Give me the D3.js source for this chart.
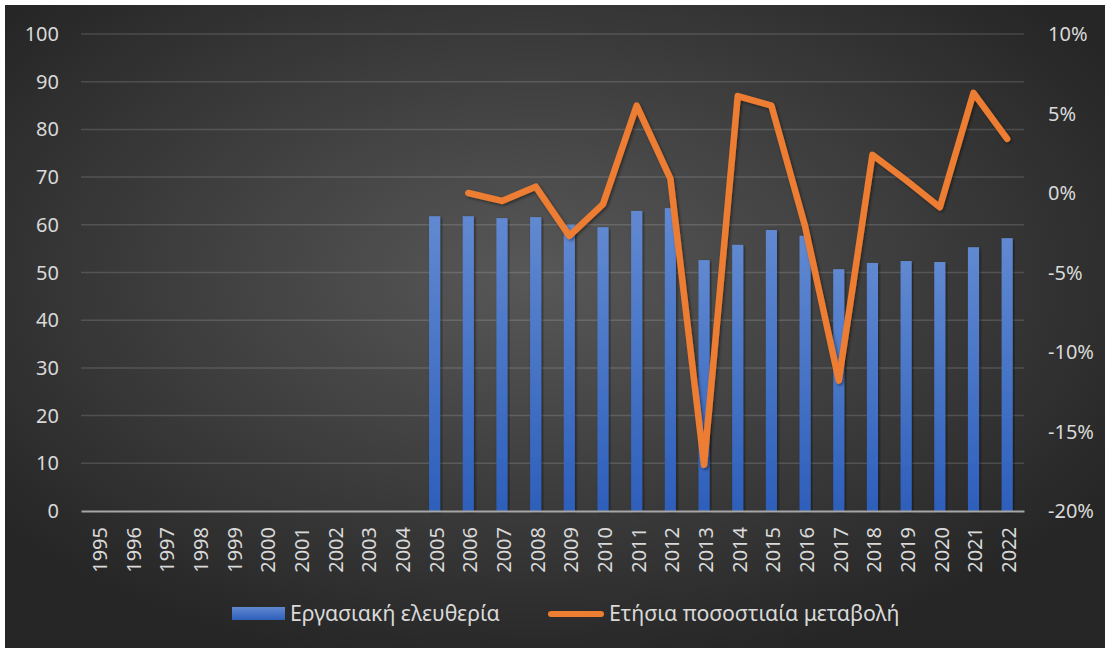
<!DOCTYPE html>
<html>
<head>
<meta charset="utf-8">
<script src="https://cdn.jsdelivr.net/npm/d3@7"></script>
<style>
    body { margin: 0; background: #ffffff; }
    svg { display: block; }
    .tick-label { font-family: "Noto Sans", "Open Sans", sans-serif; fill: #d9d9d9; }
</style>
</head>
<body>
<div id="chart"></div>
<script>
// values
const years = ['1995', '1996', '1997', '1998', '1999', '2000', '2001', '2002', '2003', '2004',
    '2005', '2006', '2007', '2008', '2009', '2010', '2011', '2012', '2013', '2014',
    '2015', '2016', '2017', '2018', '2019', '2020', '2021', '2022'];

const laborFreedom = [null, null, null, null, null, null, null, null, null, null,
    61.8, 61.8, 61.4, 61.6, 60.0, 59.5, 62.9, 63.5, 52.6, 55.8,
    58.9, 57.7, 50.7, 52.0, 52.4, 52.2, 55.3, 57.2];

// yearly change in percent
const yearlyChange = [null, null, null, null, null, null, null, null, null, null,
    null, 0.0, -0.5, 0.4, -2.7, -0.7, 5.5, 0.9, -17.1, 6.1,
    5.5, -2.1, -11.8, 2.4, 0.8, -0.9, 6.3, 3.4];

const leftTicks = [0, 10, 20, 30, 40, 50, 60, 70, 80, 90, 100];
const rightTicks = [-20, -15, -10, -5, 0, 5, 10];
const seriesNames = ['Εργασιακή ελευθερία', 'Ετήσια ποσοστιαία μεταβολή'];

class ComboChart {

    constructor(_config) {
        this.config = {
            parentElement: _config.parentElement,
            containerWidth: 1105,
            containerHeight: 648,
            plot: {left: 81, right: 1024, top: 34, bottom: 511}
        }
        this.initVis();
    }

    initVis() {
        let vis = this;
        const p = vis.config.plot;

        vis.svg = d3.select(vis.config.parentElement).append('svg')
            .attr('width', vis.config.containerWidth)
            .attr('height', vis.config.containerHeight);

        const defs = vis.svg.append('defs');

        const bg = defs.append('radialGradient')
            .attr('id', 'bg-grad')
            .attr('cx', '48%').attr('cy', '42%').attr('r', '62%');
        bg.append('stop').attr('offset', '0%').attr('stop-color', '#585858');
        bg.append('stop').attr('offset', '100%').attr('stop-color', '#262626');

        const barGrad = defs.append('linearGradient')
            .attr('id', 'bar-grad')
            .attr('x1', 0).attr('y1', 0).attr('x2', 0).attr('y2', 1);
        barGrad.append('stop').attr('offset', '0%').attr('stop-color', '#6189d1');
        barGrad.append('stop').attr('offset', '100%').attr('stop-color', '#2d5fbb');

        const shadow = defs.append('filter')
            .attr('id', 'shadow')
            .attr('x', '-20%').attr('y', '-20%').attr('width', '140%').attr('height', '140%');
        shadow.append('feDropShadow')
            .attr('dx', 1.5).attr('dy', 1.5).attr('stdDeviation', 1.5)
            .attr('flood-color', '#000').attr('flood-opacity', 0.45);

        vis.svg.append('rect')
            .attr('x', 5).attr('y', 5)
            .attr('width', vis.config.containerWidth - 5)
            .attr('height', vis.config.containerHeight - 5)
            .attr('fill', 'url(#bg-grad)');

        // scales
        vis.xScale = d3.scaleBand().domain(years).range([p.left, p.right]).padding(0);
        vis.yLeft = d3.scaleLinear().domain([0, 100]).range([p.bottom, p.top]);
        vis.yRight = d3.scaleLinear().domain([-20, 10]).range([p.bottom, p.top]);

        vis.gridG = vis.svg.append('g').attr('class', 'grid');
        vis.barG = vis.svg.append('g').attr('class', 'bars');
        vis.axisG = vis.svg.append('g').attr('class', 'x-axis');
        vis.lineG = vis.svg.append('g').attr('class', 'line');
        vis.labelG = vis.svg.append('g').attr('class', 'labels');
        vis.legendG = vis.svg.append('g').attr('class', 'legend');
    }

    renderVis() {
        let vis = this;
        const p = vis.config.plot;

        // gridlines
        vis.gridG.selectAll('line')
            .data(leftTicks.filter(d => d > 0))
            .join('line')
            .attr('x1', p.left).attr('x2', p.right)
            .attr('y1', d => vis.yLeft(d)).attr('y2', d => vis.yLeft(d))
            .attr('stroke', '#ffffff').attr('stroke-opacity', 0.14)
            .attr('stroke-width', 1.5);

        // bars
        const barW = vis.xScale.bandwidth() * 0.33;
        const barData = years.map((y, i) => ({year: y, value: laborFreedom[i]}))
            .filter(d => d.value !== null);

        vis.barG.selectAll('rect')
            .data(barData)
            .join('rect')
            .attr('x', d => vis.xScale(d.year) + vis.xScale.bandwidth() / 2 - barW / 2)
            .attr('width', barW)
            .attr('y', d => vis.yLeft(d.value))
            .attr('height', d => vis.yLeft(0) - vis.yLeft(d.value))
            .attr('fill', 'url(#bar-grad)')
            .attr('filter', 'url(#shadow)');

        // category axis
        vis.xAxis = d3.axisBottom(vis.xScale).tickSize(0).tickPadding(16);
        vis.axisG.attr('transform', `translate(0,${p.bottom})`).call(vis.xAxis);
        vis.axisG.select('.domain')
            .attr('stroke', '#a6a6a6').attr('stroke-width', 2);
        vis.axisG.selectAll('.tick text')
            .attr('class', 'tick-label')
            .attr('font-size', 20)
            .attr('transform', 'rotate(-90)')
            .attr('x', -16).attr('y', 2)
            .attr('dy', '0.35em')
            .attr('text-anchor', 'end');

        // yearly change line
        const lineData = years.map((y, i) => ({year: y, value: yearlyChange[i]}))
            .filter(d => d.value !== null);

        vis.line = d3.line()
            .x(d => vis.xScale(d.year) + vis.xScale.bandwidth() / 2)
            .y(d => vis.yRight(d.value));

        vis.lineG.append('path')
            .datum(lineData)
            .attr('d', vis.line)
            .attr('fill', 'none')
            .attr('stroke', '#ed7d31')
            .attr('stroke-width', 6.5)
            .attr('stroke-linejoin', 'round')
            .attr('stroke-linecap', 'round')
            .attr('filter', 'url(#shadow)');

        // value axes labels
        vis.labelG.selectAll('.left')
            .data(leftTicks)
            .join('text')
            .attr('class', 'tick-label left')
            .attr('x', 59)
            .attr('y', d => vis.yLeft(d))
            .attr('dy', '0.35em')
            .attr('text-anchor', 'end')
            .attr('font-size', 20)
            .text(d => d);

        vis.labelG.selectAll('.right')
            .data(rightTicks)
            .join('text')
            .attr('class', 'tick-label right')
            .attr('x', 1048)
            .attr('y', d => vis.yRight(d))
            .attr('dy', '0.35em')
            .attr('text-anchor', 'start')
            .attr('font-size', 20)
            .text(d => d + '%');

        // legend
        const lg = vis.legendG.attr('transform', 'translate(0,614)');
        lg.append('rect')
            .attr('x', 232).attr('y', -7).attr('width', 53).attr('height', 13)
            .attr('fill', 'url(#bar-grad)');
        lg.append('text')
            .attr('class', 'tick-label')
            .attr('x', 290).attr('y', 0).attr('dy', '0.35em')
            .attr('font-size', 21.3)
            .text(seriesNames[0]);
        lg.append('line')
            .attr('x1', 551).attr('x2', 601).attr('y1', 0).attr('y2', 0)
            .attr('stroke', '#ed7d31').attr('stroke-width', 6)
            .attr('stroke-linecap', 'round');
        lg.append('text')
            .attr('class', 'tick-label')
            .attr('x', 609).attr('y', 0).attr('dy', '0.35em')
            .attr('font-size', 21.3)
            .text(seriesNames[1]);
    }
}

const chart = new ComboChart({parentElement: '#chart'});
chart.renderVis();
</script>
</body>
</html>
